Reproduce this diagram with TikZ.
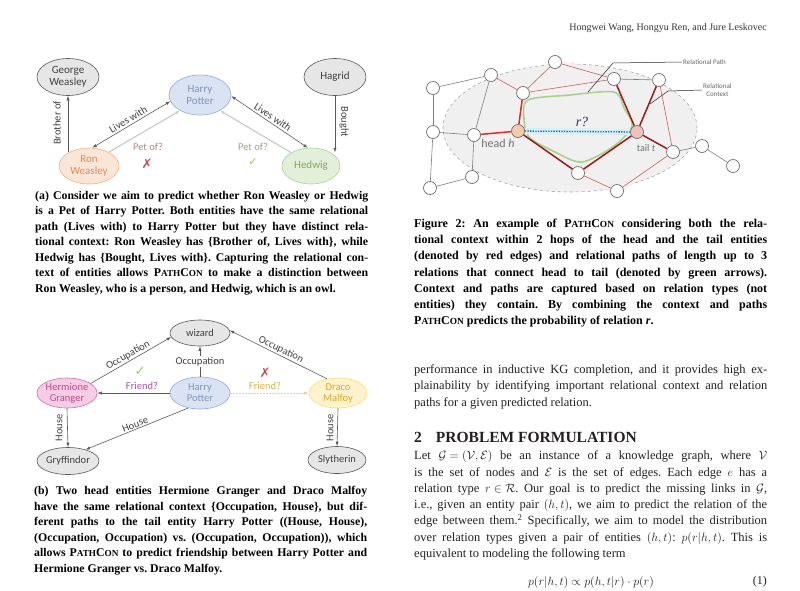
\documentclass[tikz,border=0pt]{standalone}
\usepackage{fontspec}
\usepackage{graphicx}
\setmainfont{Liberation Serif}
\newfontfamily\diag{Carlito}
\newfontfamily\symf{DejaVu Sans}
\usetikzlibrary{shapes.geometric,arrows.meta}
\pgfdeclarelayer{bg}
\pgfsetlayers{bg,main}
\frenchspacing
\thickmuskip=5mu\relax
\medmuskip=4mu\relax
\definecolor{ngray}{HTML}{E7E6E6}
\definecolor{nborder}{HTML}{595959}
\definecolor{ntext}{HTML}{404040}
\definecolor{hpfill}{HTML}{DAE3F3}
\definecolor{hpdraw}{HTML}{8FAADC}
\definecolor{hptext}{HTML}{7F96B8}
\definecolor{ronfill}{HTML}{FBE5D6}
\definecolor{rondraw}{HTML}{F4B183}
\definecolor{rontext}{HTML}{D49060}
\definecolor{hedfill}{HTML}{E2F0D9}
\definecolor{heddraw}{HTML}{A9D18E}
\definecolor{hedtext}{HTML}{7FA862}
\definecolor{hermfill}{HTML}{F6CDE4}
\definecolor{hermdraw}{HTML}{D070A8}
\definecolor{hermtext}{HTML}{C04890}
\definecolor{drafill}{HTML}{FFF2CC}
\definecolor{dradraw}{HTML}{FFD966}
\definecolor{dratext}{HTML}{D4AA2A}
\definecolor{lgray}{HTML}{595959}
\definecolor{petbrown}{HTML}{B08A70}
\definecolor{petgreen}{HTML}{9AA08A}
\definecolor{xred}{HTML}{C0504D}
\definecolor{chkgreen}{HTML}{92D050}
\definecolor{friendpink}{HTML}{A8509E}
\definecolor{friendyel}{HTML}{D6B04A}
\definecolor{vgray}{HTML}{6E6E6E}
\definecolor{redA}{HTML}{C0392B}
\definecolor{redB}{HTML}{8B1E1E}
\definecolor{headfill}{HTML}{F8CBAD}
\definecolor{tailfill}{HTML}{F4C0BC}
\definecolor{dotblue}{HTML}{2E5E8C}
\definecolor{bodytext}{HTML}{231F20}
\newlength\capw \setlength\capw{333pt}
\newlength\colw \setlength\colw{353pt}
\newcommand\jla[1]{\makebox[\capw][s]{#1}\\}
\newcommand\jlb[1]{\makebox[\colw][s]{#1}\\}
\newcommand\pcon{P\scalebox{0.78}{ATH}C\scalebox{0.78}{ON}}
\begin{document}
\begin{tikzpicture}[x=1pt,y=-1pt,
  ent/.style={ellipse, draw=nborder, line width=0.6pt, inner sep=0pt, align=center,
    font=\diag\fontsize{11}{11.5}\selectfont, text=ntext, fill=ngray},
  entb/.style={ent, font=\diag\fontsize{10.5}{11}\selectfont},
  hpent/.style={ent, fill=hpfill, draw=hpdraw, text=hptext},
  rel/.style={draw=lgray, line width=0.6pt},
  arr/.style={-{Latex[length=4.5pt,width=3.2pt]}},
  barr/.style={{Latex[length=4.5pt,width=3.2pt]}-{Latex[length=4.5pt,width=3.2pt]}},
  faint/.style={draw=black!22, line width=1.1pt},
  lab/.style={font=\diag\fontsize{10.5}{11}\selectfont, text=ntext, inner sep=1pt},
  symb/.style={font=\symf\fontsize{11}{11}\selectfont, inner sep=0pt},
  vtx/.style={circle, draw=vgray, fill=white, line width=0.7pt, minimum size=13pt, inner sep=0pt},
  gedge/.style={draw=vgray!90, line width=0.6pt},
  redge/.style={draw=redA, line width=1.5pt},
  dedge/.style={draw=redB, line width=1.5pt},
  ctx/.style={draw=red!8, line width=6pt, line cap=round, line join=round},
  caption/.style={anchor=north west, inner sep=0pt, align=left,
    font=\bfseries\fontsize{11.8}{15.5}\selectfont},
  body/.style={anchor=north west, inner sep=0pt, align=left, text=bodytext,
    font=\fontsize{12.5}{16.3}\selectfont},
  small/.style={font=\diag\fontsize{7}{8}\selectfont, text=black!60, inner sep=1pt}
]
\useasboundingbox (0,0) rectangle (800,590);

% ---------------- header ----------------
\node[anchor=east, inner sep=0pt, text=black!80, font=\fontsize{10}{12}\selectfont] (hdr) at (767,28)
  {Hongwei Wang, Hongyu Ren, and Jure Leskovec};

% ---------------- diagram (a) ----------------
\node[ent, minimum width=62pt, minimum height=37pt] (george) at (68,77) {George\\Weasley};
\node[hpent, minimum width=62pt, minimum height=40pt] (hp1) at (200,95) {Harry\\Potter};
\node[ent, minimum width=62pt, minimum height=37pt] (hagrid) at (335,77) {Hagrid};
\node[ent, fill=ronfill, draw=rondraw, text=rontext, minimum width=60pt, minimum height=36pt] (ron) at (89,166) {Ron\\Weasley};
\node[ent, fill=hedfill, draw=heddraw, text=hedtext, minimum width=58pt, minimum height=36pt] (hedwig) at (311,166) {Hedwig};

\draw[rel, arr] (george.south |- ron.145) -- (george.south);
\node[lab, rotate=90] (lbro) at (57,123) {Brother of};
\draw[rel, barr] (ron.80) -- node[lab, sloped, above=1pt] (llw1) {Lives with} (hp1.192);
\draw[faint, arr] (ron.35) -- (hp1.218);
\node[lab, text=petbrown] (lpet1) at (148,147) {Pet of?};
\node[symb, text=xred, font=\symf\fontsize{13}{13}\selectfont] (x1) at (147,164) {✗};
\draw[rel, barr] (hp1.-2) -- node[lab, sloped, above=1pt] (llw2) {Lives with} (hedwig.100);
\draw[faint, arr] (hedwig.146) -- (hp1.-38);
\node[lab, text=petgreen] (lpet2) at (253,147) {Pet of?};
\node[symb, text=chkgreen] (c1) at (253,162) {✓};
\draw[rel, arr] (hagrid.south) -- (hagrid.south |- hedwig.35);
\node[lab, rotate=-90] (lbought) at (344,122) {Bought};

% ---------------- caption (a) ----------------
\node[caption] (capa) at (35,191) {%
\jla{(a) Consider we aim to predict whether Ron Weasley or Hedwig}
\jla{is a Pet of Harry Potter. Both entities have the same relational}
\jla{path (Lives with) to Harry Potter but they have distinct rela-}
\jla{tional context: Ron Weasley has \{Brother of, Lives with\}, while}
\jla{Hedwig has \{Bought, Lives with\}. Capturing the relational con-}
\jla{text of entities allows \pcon{} to make a distinction between}
Ron Weasley, who is a person, and Hedwig, which is an owl.};

% ---------------- diagram (b) ----------------
\node[entb, minimum width=60pt, minimum height=26pt] (wizard) at (200,333) {wizard};
\node[entb, fill=hermfill, draw=hermdraw, text=hermtext, minimum width=58pt, minimum height=30pt] (herm) at (67,393) {Hermione\\Granger};
\node[entb, fill=hpfill, draw=hpdraw, text=hptext, minimum width=60pt, minimum height=32pt] (hp2) at (200,393) {Harry\\Potter};
\node[entb, fill=drafill, draw=dradraw, text=dratext, minimum width=58pt, minimum height=30pt] (draco) at (338,393) {Draco\\Malfoy};
\node[entb, minimum width=58pt, minimum height=27pt] (gryff) at (68,461) {Gryffindor};
\node[entb, minimum width=58pt, minimum height=27pt] (slyth) at (337,460) {Slytherin};

\draw[rel, arr] (herm.22) -- node[lab, sloped, above] (locc1) {Occupation} (wizard.188);
\draw[rel, arr] (hp2.north) -- node[lab, fill=white] (locc2) {Occupation} (wizard.south);
\draw[rel, arr] (draco.128) -- node[lab, sloped, above] (locc3) {Occupation} (wizard.5);
\draw[rel, arr] (hp2.west) -- (herm.east);
\node[lab, text=friendpink] (lfr1) at (142,386) {Friend?};
\node[symb, text=chkgreen, font=\symf\fontsize{13}{13}\selectfont] (c2) at (140,371) {✓};
\draw[draw=friendyel!60, line width=0.8pt, dash pattern=on 1.5pt off 1.5pt, arr] (hp2.east) -- (draco.west);
\node[lab, text=friendyel] (lfr2) at (265,386) {Friend?};
\node[symb, text=xred, font=\symf\fontsize{13}{13}\selectfont] (x2) at (265,373) {✗};
\draw[rel, arr] (herm.south) -- (gryff.north);
\node[lab, rotate=90] (lh1) at (59,428) {House};
\draw[rel, arr] (hp2.232) -- node[lab, sloped, above] (lh2) {House} (gryff.33);
\draw[rel, arr] (draco.south) -- (slyth.north);
\node[lab, rotate=90, fill=white] (lh3) at (330,428) {House};

% ---------------- caption (b) ----------------
\node[caption] (capb) at (34,486) {%
\jla{(b) Two head entities Hermione Granger and Draco Malfoy}
\jla{have the same relational context \{Occupation, House\}, but dif-}
\jla{ferent paths to the tail entity Harry Potter ((House, House),}
\jla{(Occupation, Occupation) vs. (Occupation, Occupation)), which}
\jla{allows \pcon{} to predict friendship between Harry Potter and}
Hermione Granger vs. Draco Malfoy.};

% ---------------- Figure 2 graph ----------------
\node[vtx] (n1) at (433,88) {};
\node[vtx] (n2) at (491,75) {};
\node[vtx] (n3) at (555,62) {};
\node[vtx] (n4) at (523,93) {};
\node[vtx] (n5) at (614,79) {};
\node[vtx] (n6) at (659,80) {};
\node[vtx] (n7) at (433,132) {};
\node[vtx] (n8) at (474,135) {};
\node[vtx, fill=headfill] (hd) at (518,131) {};
\node[vtx, fill=tailfill] (tl) at (637,132) {};
\node[vtx] (n9) at (673,152) {};
\node[vtx] (n10) at (702,146) {};
\node[vtx] (n11) at (733,166) {};
\node[vtx] (n12) at (578,173) {};
\node[vtx] (n13) at (472,177) {};
\node[vtx] (n14) at (430,188) {};
\node[vtx] (n15) at (617,191) {};

\begin{pgfonlayer}{bg}
  \fill[black!6] (570,128) ellipse [x radius=127pt, y radius=64pt];
  \draw[black!35, dashed, line width=0.6pt] (570,128) ellipse [x radius=127pt, y radius=64pt];
  \draw[ctx] (n2.center) -- (n4.center) -- (n5.center) -- (n3.center) -- (n4.center);
  \draw[ctx] (n8.center) -- (hd.center) -- (n4.center);
  \draw[ctx] (hd.center) -- (n12.center) -- (tl.center);
  \draw[ctx] (n6.center) -- (n9.center) -- (n15.center) -- (n12.center);
  \draw[ctx] (n5.center) -- (tl.center) -- (n6.center);
  \draw[draw=heddraw, line width=1.6pt] plot[smooth cycle] coordinates
    {(528,100) (570,95) (614,92) (624,108) (632,126) (614,146) (582,162) (555,152) (529,137) (524,118)};
  \draw[draw=cyan!18, line width=6pt] (hd) -- (tl);
  \draw[gedge] (n1) -- (n2);
  \draw[gedge] (n1) -- (n7);
  \draw[gedge] (n7) -- (n8);
  \draw[gedge] (n7) -- (n14);
  \draw[gedge] (n14) -- (n13);
  \draw[gedge] (n13) -- (n8);
  \draw[gedge] (n2) -- (n8);
  \draw[gedge] (n2) -- (n4);
  \draw[gedge] (n3) -- (n4);
  \draw[gedge] (n3) -- (n5);
  \draw[gedge] (n4) -- (n5);
  \draw[gedge] (n5) -- (n6);
  \draw[gedge] (n6) -- (n9);
  \draw[gedge] (n12) -- (n15);
  \draw[gedge] (n15) -- (n9);
  \draw[gedge] (n9) -- (n10);
  \draw[gedge] (n10) -- (n11);
  \draw[redge] (hd) -- (n8);
  \draw[redge] (hd) -- (n4);
  \draw[dedge] (hd) -- (n12);
  \draw[dedge] (n12) -- (tl);
  \draw[dedge] (tl) -- (n5);
  \draw[dedge] (tl) -- (n6);
  \draw[dedge] (tl) -- (n9);
  \draw[draw=dotblue, line width=1.3pt, dash pattern=on 1.3pt off 1.3pt] (hd) -- (tl);
\end{pgfonlayer}

\node[font=\fontsize{14}{14}\selectfont\itshape, text=black!70!blue!60!gray, inner sep=0pt] (rq) at (582,122) {r?};
\node[font=\diag\fontsize{12}{12}\selectfont, text=black!55, inner sep=0pt] (lhead) at (498,143) {head \textit{h}};
\node[font=\diag\fontsize{10}{10}\selectfont, text=black!55, inner sep=0pt] (ltail) at (646,148) {tail \textit{t}};

\node[small, anchor=west] (lrp) at (682,62) {Relational Path};
\coordinate (rpS) at (588,92);
\draw[black!85, line width=0.5pt] (rpS) -- (613,63) -- (lrp.west);
\node[small, align=center, anchor=west, font=\diag\fontsize{7}{8}\selectfont] (lrc) at (702,90) {Relational\\Context};
\coordinate (rcS) at (650,104);
\draw[black!85, line width=0.5pt] (rcS) -- (668,91) -- (lrc.west);

% ---------------- Figure 2 caption ----------------
\node[caption, font=\bfseries\fontsize{12}{16.3}\selectfont] (cap2) at (414,218.5) {%
\jlb{Figure 2: An example of \pcon{} considering both the rela-}
\jlb{tional context within 2 hops of the head and the tail entities}
\jlb{(denoted by red edges) and relational paths of length up to 3}
\jlb{relations that connect head to tail (denoted by green arrows).}
\jlb{Context and paths are captured based on relation types (not}
\jlb{entities) they contain. By combining the context and paths}
\pcon{} predicts the probability of relation \textit{r}.};

% ---------------- body text ----------------
\node[body] (par1) at (414,364.5) {%
\jlb{performance in inductive KG completion, and it provides high ex-}
\jlb{plainability by identifying important relational context and relation}
paths for a given predicted relation.};

\node[anchor=west, inner sep=0pt, text=bodytext, font=\bfseries\fontsize{15.5}{18}\selectfont] (sec) at (414,437)
  {2\hspace{14pt}PROBLEM FORMULATION};

\node[body] (par2) at (414,450.5) {%
\jlb{Let $\mathcal{G}=(\mathcal{V},\mathcal{E})$ be an instance of a knowledge graph, where $\mathcal{V}$}
\jlb{is the set of nodes and $\mathcal{E}$ is the set of edges. Each edge $e$ has a}
\jlb{relation type $r\in\mathcal{R}$. Our goal is to predict the missing links in $\mathcal{G}$,}
\jlb{i.e., given an entity pair $(h,t)$, we aim to predict the relation of the}
\jlb{edge between them.\textsuperscript{2} Specifically, we aim to model the distribution}
\jlb{over relation types given a pair of entities $(h,t)$: $p(r|h,t)$. This is}
equivalent to modeling the following term};

\node[inner sep=0pt, text=bodytext, font=\fontsize{12}{14}\selectfont] (eq) at (591,582)
  {$p(r|h,t)\propto p(h,t|r)\cdot p(r)$};
\node[anchor=east, inner sep=0pt, text=bodytext, font=\fontsize{12}{14}\selectfont] (eqn) at (767,582) {(1)};
\end{tikzpicture}
\end{document}
